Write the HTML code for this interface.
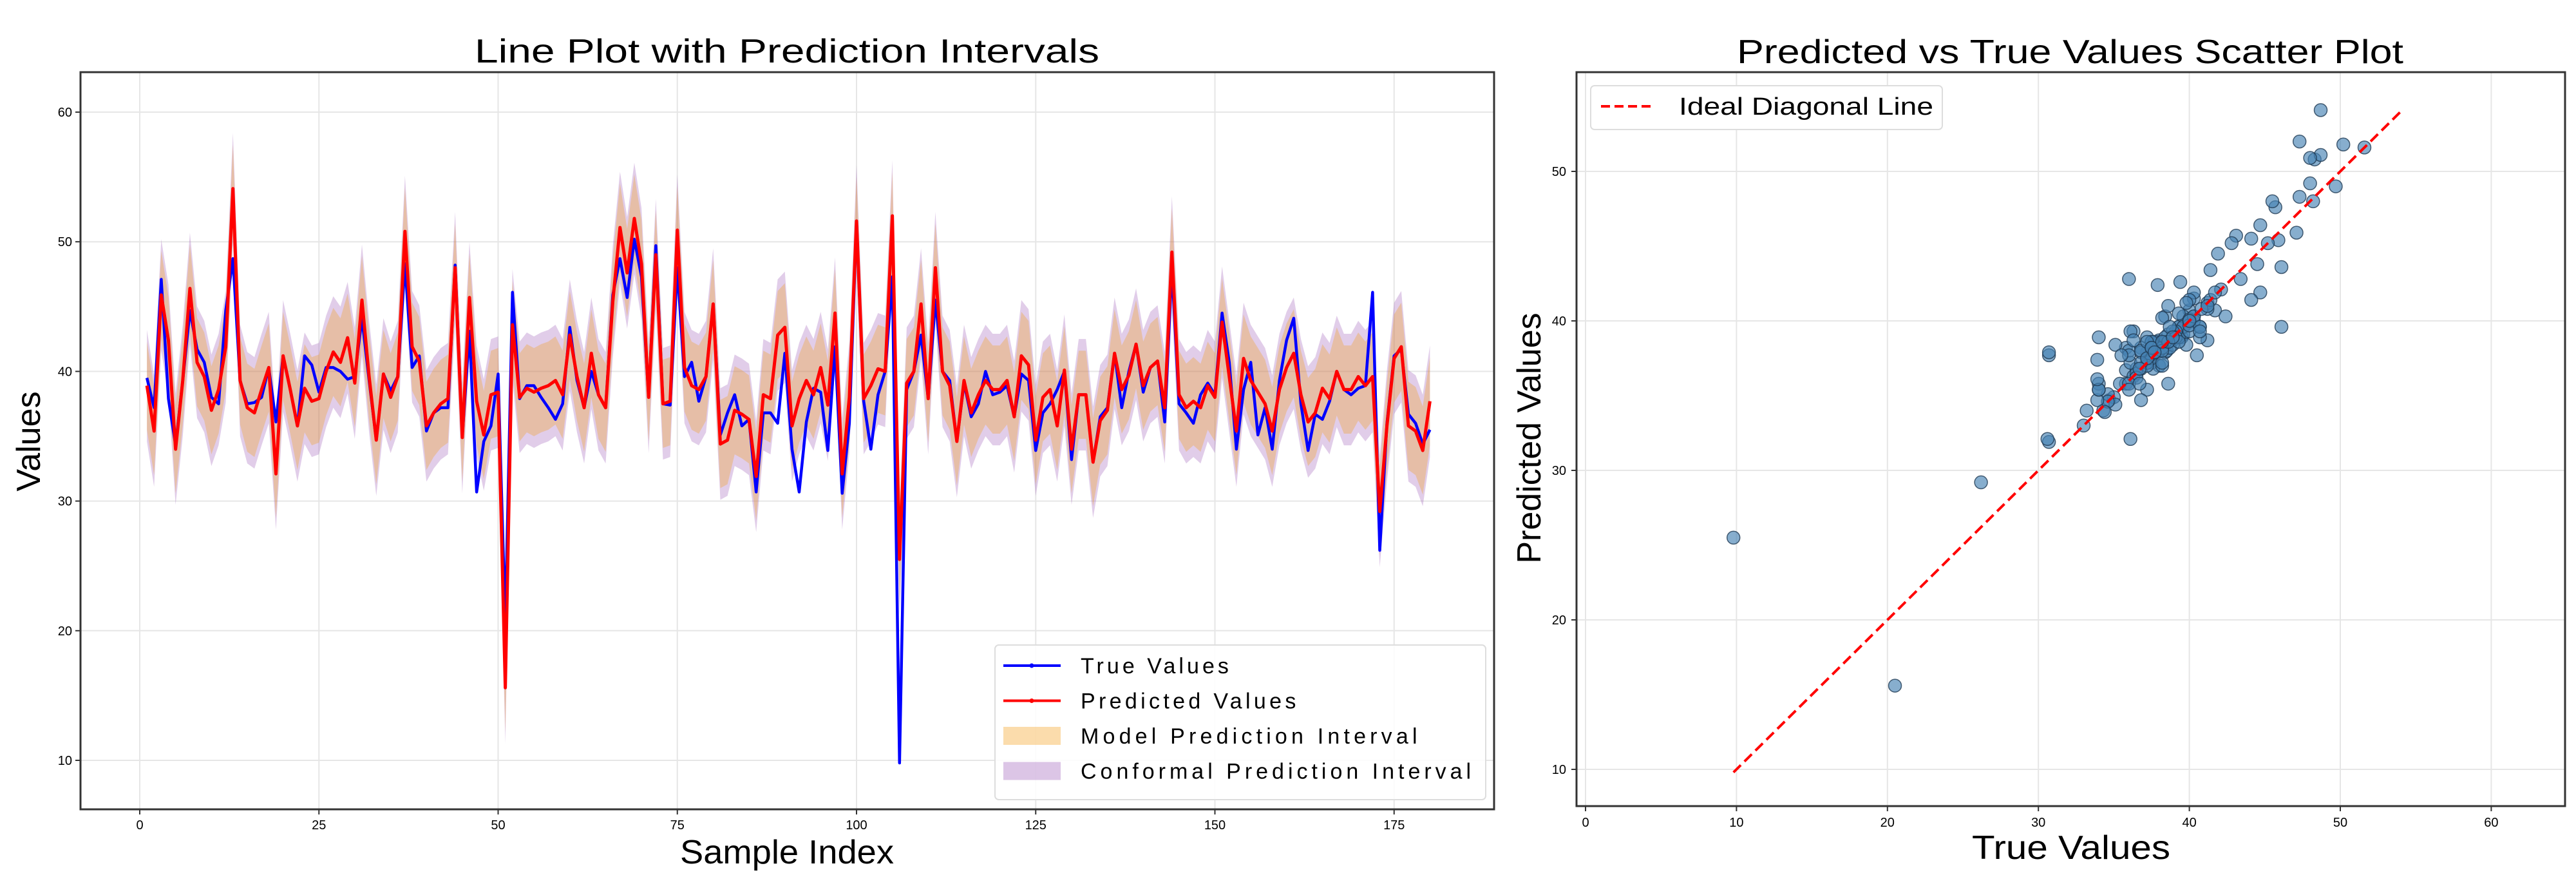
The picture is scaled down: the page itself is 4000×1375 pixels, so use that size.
<!DOCTYPE html>
<html><head><meta charset="utf-8"><style>
html,body{margin:0;padding:0;background:#fff;}
svg{display:block;}
text{font-family:"Liberation Sans","Noto Sans CJK SC",sans-serif;fill:#000;}
</style></head><body>
<svg id="chart" width="4000" height="1375" viewBox="0 0 4000 1375" xmlns="http://www.w3.org/2000/svg">
<rect x="0" y="0" width="4000" height="1375" fill="#fff"/>
<g id="left"></g>
<g id="right"></g>
</svg>
<script>
const trueValues = [39.5,37.2,47.1,37.9,34.3,39.3,44.7,41.7,40.7,38.0,37.5,44.7,48.7,39.3,37.5,37.6,38.0,40.3,36.1,41.2,38.6,35.8,41.2,40.5,38.4,40.3,40.3,40.0,39.4,39.6,44.1,39.3,34.7,39.8,38.5,39.6,48.3,40.3,41.2,35.4,36.8,37.2,37.2,48.2,35.0,43.1,30.7,34.6,35.8,39.8,20.5,46.1,37.9,38.9,38.9,38.0,37.2,36.3,37.5,43.4,39.3,37.2,40.0,38.2,37.2,45.9,48.7,45.7,50.2,47.3,38.0,49.7,37.5,37.4,48.0,39.6,40.7,37.7,39.6,45.2,35.1,36.8,38.2,35.8,36.3,30.7,36.8,36.8,36.0,41.4,34.0,30.7,36.1,38.7,38.4,33.9,41.9,30.6,36.0,51.6,37.7,34.0,38.2,40.0,47.3,9.8,38.6,40.0,42.8,37.9,45.5,40.0,39.3,34.6,39.1,36.5,37.5,40.0,38.2,38.4,38.9,36.5,39.8,39.3,33.9,36.8,37.5,38.6,40.0,33.2,38.2,38.2,33.0,36.5,37.2,41.4,37.2,40.0,42.1,38.4,40.3,40.8,36.1,48.0,37.5,36.8,36.0,38.2,39.1,38.2,44.5,40.7,34.0,38.6,40.7,35.1,37.2,34.0,39.3,42.4,44.1,37.5,33.9,36.7,36.3,37.7,40.0,38.6,38.2,38.7,38.9,46.1,26.2,36.0,41.2,41.7,36.7,36.0,34.4,35.5];
const predValues = [38.9,35.4,45.9,42.4,34.0,39.3,46.4,40.7,39.6,37.0,38.6,41.9,54.1,39.3,37.2,36.8,38.6,40.3,32.1,41.2,38.6,35.8,38.7,37.7,37.9,40.0,41.5,40.7,42.6,39.1,45.5,39.6,34.7,39.8,38.0,39.6,50.8,41.9,40.8,35.8,36.8,37.5,37.9,48.0,34.9,45.7,37.7,35.1,38.2,38.4,15.6,43.6,38.0,38.7,38.4,38.7,38.9,39.3,38.2,42.8,39.6,37.2,41.4,38.2,37.2,45.4,51.1,47.6,51.8,48.3,38.0,49.0,37.5,37.7,50.9,40.3,38.9,38.6,39.6,45.2,34.4,34.7,37.0,36.7,36.3,31.9,38.2,37.9,42.8,43.4,35.8,37.9,39.3,38.2,40.3,37.4,44.5,32.1,38.0,51.6,37.9,38.9,40.2,40.0,52.0,25.5,39.1,40.0,45.2,37.9,48.0,40.0,38.9,34.6,39.3,36.8,38.2,39.3,38.6,38.6,39.3,36.5,41.2,40.5,34.7,38.0,38.6,35.8,40.1,34.0,38.2,38.2,33.0,36.2,37.0,41.4,38.6,39.7,42.1,38.9,40.3,40.8,37.2,49.2,38.2,37.2,37.7,37.2,38.9,38.0,43.8,39.6,35.4,41.0,39.3,38.4,37.5,35.4,38.6,40.3,41.4,38.2,36.1,36.8,38.7,37.9,40.0,38.6,38.6,39.6,38.9,39.6,29.2,35.8,41.0,41.9,35.8,35.4,33.9,37.7];
const leftXTicks = [0,25,50,75,100,125,150,175];
const leftYTicks = [10,20,30,40,50,60];
const rightXTicks = [0,10,20,30,40,50,60];
const rightYTicks = [10,20,30,40,50];
const modelHalfWidth = 3.4;
const conformalHalfWidth = 4.3;

const NS = "http://www.w3.org/2000/svg";
function mk(tag, attrs, parent){ const e=document.createElementNS(NS,tag); for(const k in attrs) e.setAttribute(k,attrs[k]); if(parent) parent.appendChild(e); return e; }

/* ---------- LEFT PANEL ---------- */
const L = document.getElementById('left');
const LX0=125, LX1=2320, LY0=112, LY1=1256;
const lx = i => 217 + 11.13*i;
const ly = v => 1180 - 20.12*(v-10);

// grid
leftXTicks.forEach(t=>{ const g=mk('line',{x1:lx(t),x2:lx(t),y1:LY0,y2:LY1,stroke:'#e6e6e6','stroke-width':2},L);
   });
leftYTicks.forEach(t=>{ const g=mk('line',{x1:LX0,x2:LX1,y1:ly(t),y2:ly(t),stroke:'#e6e6e6','stroke-width':2},L);
   });

const idx = trueValues.map((_,k)=>k+1);
function band(half, color, name){
  let d='M'+idx.map((i,k)=>lx(i)+','+ly(predValues[k]+half)).join('L');
  d+='L'+idx.slice().reverse().map(i=>lx(i)+','+ly(predValues[i-1]-half)).join('L')+'Z';
  const p=mk('path',{d:d,fill:color,'fill-opacity':0.3,stroke:'none'},L);
   
}
band(conformalHalfWidth,'#9b59b6','conformal-interval-band');
band(modelHalfWidth,'#f39c12','model-interval-band');

const tl=mk('polyline',{points:idx.map((i,k)=>lx(i)+','+ly(trueValues[k])).join(' '),fill:'none',stroke:'#0000ff','stroke-width':4.5,'stroke-linejoin':'round'},L);
 
const pl=mk('polyline',{points:idx.map((i,k)=>lx(i)+','+ly(predValues[k])).join(' '),fill:'none',stroke:'#ff0000','stroke-width':5,'stroke-linejoin':'round'},L);
 

// frame
const lf=mk('rect',{x:LX0,y:LY0,width:LX1-LX0,height:LY1-LY0,fill:'none',stroke:'#333','stroke-width':3},L);
 

leftXTicks.forEach(t=>{ mk('line',{x1:lx(t),x2:lx(t),y1:LY1,y2:LY1+8,stroke:'#333','stroke-width':2},L);
 const tx=mk('text',{x:lx(t),y:1287,'text-anchor':'middle','font-size':20},L); tx.textContent=t;
   });
leftYTicks.forEach(t=>{ mk('line',{x1:LX0-8,x2:LX0,y1:ly(t),y2:ly(t),stroke:'#333','stroke-width':2},L);
 const tx=mk('text',{x:112,y:ly(t)+7,'text-anchor':'end','font-size':20},L); tx.textContent=t;
   });

let t1=mk('text',{x:737,y:97,'font-size':52,textLength:970,lengthAdjust:'spacingAndGlyphs'},L); t1.textContent='Line Plot with Prediction Intervals';
 
let xl=mk('text',{x:1056,y:1340,'font-size':52,textLength:332,lengthAdjust:'spacingAndGlyphs'},L); xl.textContent='Sample Index';
 
let yl=mk('text',{x:0,y:0,'font-size':52,'text-anchor':'middle',transform:'translate(62,685) rotate(-90)'},L); yl.textContent='Values';
 

// legend
const lg=mk('g',{},L);  
mk('rect',{x:1545,y:1001,width:762,height:240,rx:6,fill:'#fff','fill-opacity':0.85,stroke:'#ddd','stroke-width':2},lg);
const legItems=[['True Values','line','#0000ff'],['Predicted Values','line','#ff0000'],['Model Prediction Interval','patch','#f39c12'],['Conformal Prediction Interval','patch','#9b59b6']];
legItems.forEach((it,k)=>{ const y=1033+k*54.5;
  const e=mk('g',{},lg);  
  if(it[1]==='line'){ mk('line',{x1:1558,x2:1647,y1:y,y2:y,stroke:it[2],'stroke-width':4},e); mk('circle',{cx:1602,cy:y,r:3.5,fill:it[2]},e); }
  else mk('rect',{x:1558,y:y-14,width:89,height:28,fill:it[2],'fill-opacity':0.35},e);
  const tx=mk('text',{x:1678,y:y+12,'font-size':34,textLength:it[0].length*20.9,lengthAdjust:'spacing','font-family':'Liberation Sans'},e); tx.textContent=it[0];
});

/* ---------- RIGHT PANEL ---------- */
const R=document.getElementById('right');
const RX0=2448, RX1=3983, RY0=112, RY1=1251;
const rx = v => 2462 + 23.44*v;
const ry = v => 1194 - 23.2*(v-10);
rightXTicks.forEach(t=>{ const g=mk('line',{x1:rx(t),x2:rx(t),y1:RY0,y2:RY1,stroke:'#e6e6e6','stroke-width':2},R);
   });
rightYTicks.forEach(t=>{ const g=mk('line',{x1:RX0,x2:RX1,y1:ry(t),y2:ry(t),stroke:'#e6e6e6','stroke-width':2},R);
   });

trueValues.forEach((tv,k)=>{ const c=mk('circle',{cx:rx(tv),cy:ry(predValues[k]),r:10,fill:'#4682b4','fill-opacity':0.65,stroke:'#1f3a52','stroke-width':1.5,'stroke-opacity':0.8},R);
   });

const lo=Math.min(...trueValues,...predValues), hi=Math.max(...trueValues,...predValues);
const dl=mk('line',{x1:rx(lo),y1:ry(lo),x2:rx(hi),y2:ry(hi),stroke:'#ff0000','stroke-width':4,'stroke-dasharray':'16,8'},R);
 

const rf=mk('rect',{x:RX0,y:RY0,width:RX1-RX0,height:RY1-RY0,fill:'none',stroke:'#333','stroke-width':3},R);
 
rightXTicks.forEach(t=>{ mk('line',{x1:rx(t),x2:rx(t),y1:RY1,y2:RY1+8,stroke:'#333','stroke-width':2},R);
 const tx=mk('text',{x:rx(t),y:1283,'text-anchor':'middle','font-size':20},R); tx.textContent=t;
   });
rightYTicks.forEach(t=>{ mk('line',{x1:RX0-8,x2:RX0,y1:ry(t),y2:ry(t),stroke:'#333','stroke-width':2},R);
 const tx=mk('text',{x:2432,y:ry(t)+7,'text-anchor':'end','font-size':20},R); tx.textContent=t;
   });

let t2=mk('text',{x:2697,y:98,'font-size':52,textLength:1035,lengthAdjust:'spacingAndGlyphs'},R); t2.textContent='Predicted vs True Values Scatter Plot';
 
let xl2=mk('text',{x:3062,y:1333,'font-size':52,textLength:308,lengthAdjust:'spacingAndGlyphs'},R); xl2.textContent='True Values';
 
let yl2=mk('text',{x:0,y:0,'font-size':52,'text-anchor':'middle',transform:'translate(2392,680) rotate(-90)'},R); yl2.textContent='Predicted Values';
 

const rg=mk('g',{},R);  
mk('rect',{x:2470,y:133,width:546,height:68,rx:6,fill:'#fff',stroke:'#ddd','stroke-width':2},rg);
mk('line',{x1:2486,x2:2569,y1:165,y2:165,stroke:'#ff0000','stroke-width':4,'stroke-dasharray':'14,7'},rg);
let rt=mk('text',{x:2607,y:178,'font-size':38,textLength:395,lengthAdjust:'spacingAndGlyphs'},rg); rt.textContent='Ideal Diagonal Line';
</script>
</body></html>
